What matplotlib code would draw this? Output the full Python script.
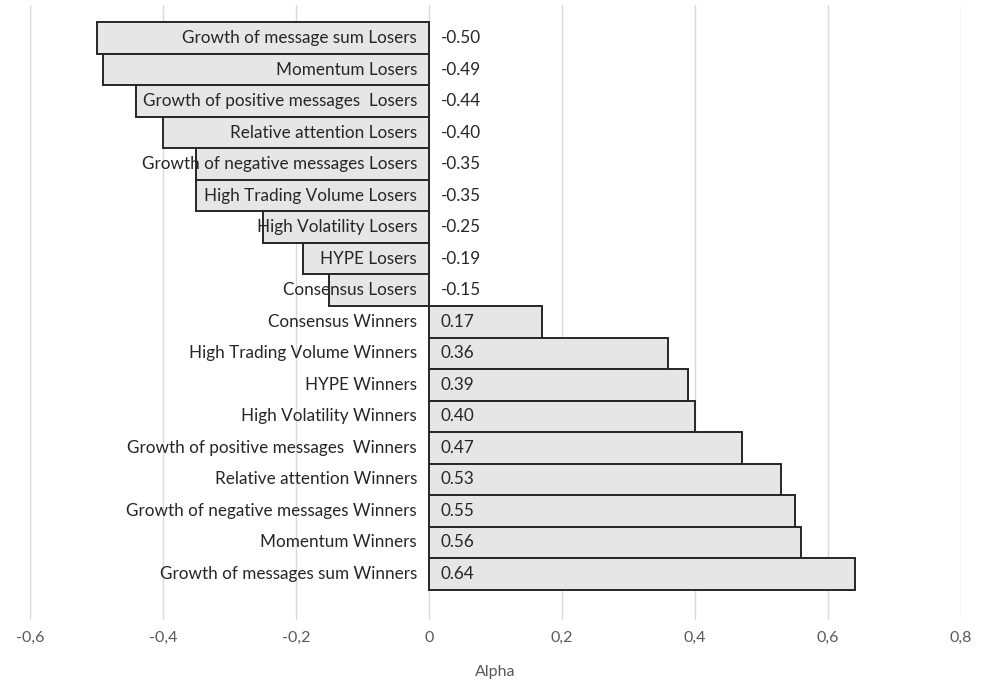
import numpy as np
import matplotlib
matplotlib.use('Agg')
import matplotlib.pyplot as plt
import matplotlib.ticker as ticker

# strategy alphas, top to bottom
names = ['Growth of message sum Losers', 'Momentum Losers',
         'Growth of positive messages  Losers', 'Relative attention Losers',
         'Growth of negative messages Losers', 'High Trading Volume Losers',
         'High Volatility Losers', 'HYPE Losers', 'Consensus Losers',
         'Consensus Winners', 'High Trading Volume Winners', 'HYPE Winners',
         'High Volatility Winners', 'Growth of positive messages  Winners',
         'Relative attention Winners', 'Growth of negative messages Winners',
         'Momentum Winners', 'Growth of messages sum Winners']
alpha = [-0.50, -0.49, -0.44, -0.40, -0.35, -0.35, -0.25, -0.19, -0.15,
         0.17, 0.36, 0.39, 0.40, 0.47, 0.53, 0.55, 0.56, 0.64]
xticks = [-0.6, -0.4, -0.2, 0, 0.2, 0.4, 0.6, 0.8]

plt.rcParams['font.family'] = ['Lato', 'DejaVu Sans']

fig = plt.figure(figsize=(9.86, 6.83), dpi=100)
ax = fig.add_axes([30/986, 63/683, 931/986, 615/683])

n = len(alpha)
ypos = np.arange(n)
ax.barh(ypos, alpha, height=1.0, color='#e6e6e6', edgecolor='#262626',
        linewidth=1.4, zorder=2)

for y, v, name in zip(ypos, alpha, names):
    ax.text(-0.018, y, name, ha='right', va='center', fontsize=12.3,
            color='#262626', zorder=3)
    ax.text(0.018, y, '%.2f' % v, ha='left', va='center', fontsize=12.3,
            color='#262626', zorder=3)

ax.set_xlim(-0.6, 0.8)
ax.set_ylim(17 + 46/31.5, -33/31.5)
ax.set_xticks(xticks)
ax.xaxis.set_major_formatter(ticker.FuncFormatter(
    lambda v, p: '0' if abs(v) < 1e-9 else ('%.1f' % v).replace('.', ',')))
ax.set_yticks([])
ax.tick_params(axis='x', length=0, labelsize=11.5, labelcolor='#595959', pad=8)
ax.grid(axis='x', color='#d9d9d9', linewidth=1, zorder=0)
for s in ax.spines.values():
    s.set_visible(False)
ax.set_xlabel('Alpha', fontsize=11.5, color='#595959', labelpad=14)

plt.savefig('out.png', dpi=100)
